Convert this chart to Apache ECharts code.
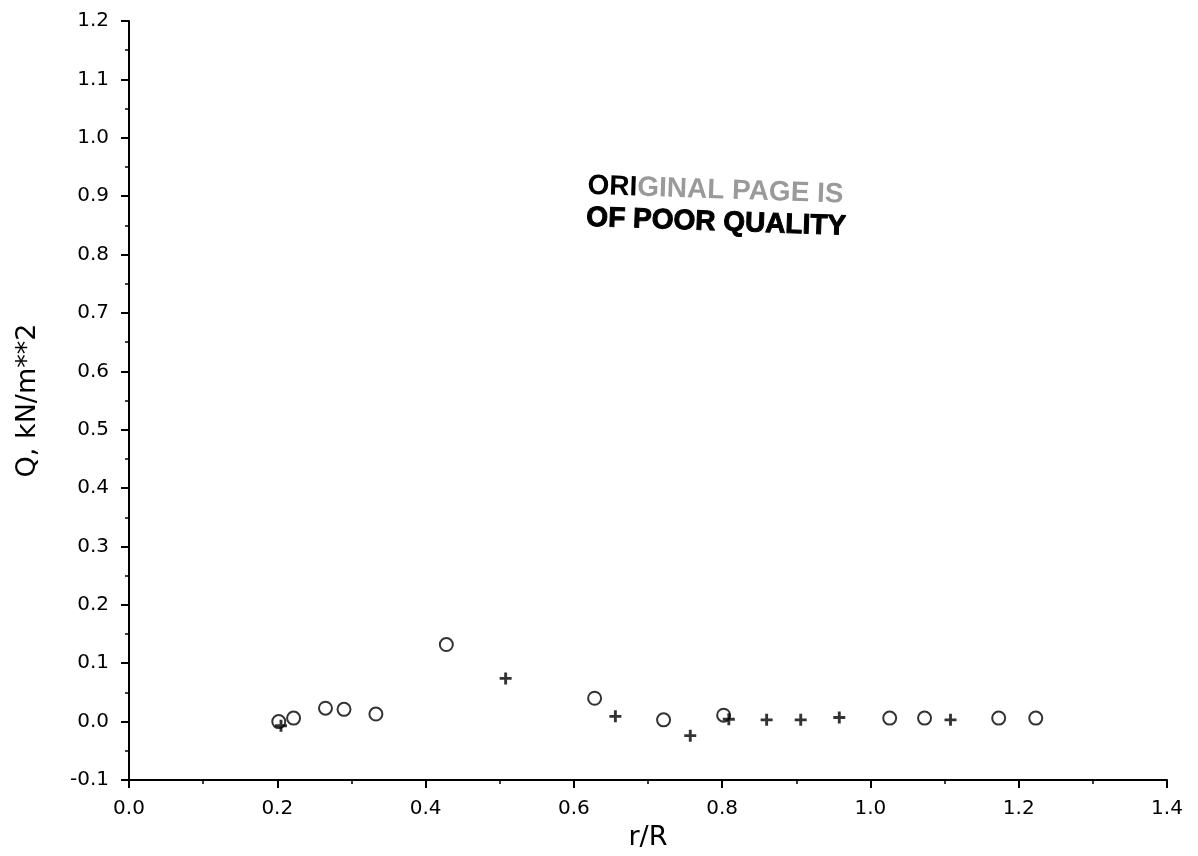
<!DOCTYPE html>
<html>
<head>
<meta charset="utf-8">
<script src="https://cdn.jsdelivr.net/npm/echarts@6/dist/echarts.min.js"></script>
<style>
    html, body { margin: 0; padding: 0; background: #fff; }
    #main { width: 1198px; height: 856px; }
</style>
</head>
<body>
<div id="main"></div>
<script>
    // circles (o)
    var circleR = [0.202, 0.222, 0.265, 0.290, 0.333, 0.428, 0.628, 0.721, 0.802, 1.026, 1.073, 1.173, 1.223];
    var circleQ = [0.000, 0.006, 0.023, 0.021, 0.013, 0.132, 0.040, 0.003, 0.011, 0.006, 0.006, 0.006, 0.006];
    // crosses (+)
    var plusR = [0.205, 0.508, 0.656, 0.757, 0.809, 0.860, 0.906, 0.958, 1.108];
    var plusQ = [-0.007, 0.074, 0.009, -0.024, 0.004, 0.003, 0.003, 0.007, 0.003];

    function pairs(xs, ys) {
        return xs.map(function (x, i) { return [x, ys[i]]; });
    }

    var myChart = echarts.init(document.getElementById('main'));
    var font = 'DejaVu Sans';

    myChart.setOption({
        animation: false,
        backgroundColor: '#fff',
        grid: {
            left: 129,
            right: 31,
            top: 21,
            bottom: 76,
            outerBoundsMode: 'none'
        },
        xAxis: {
            type: 'value',
            min: 0,
            max: 1.4,
            interval: 0.2,
            name: 'r/R',
            nameLocation: 'middle',
            nameGap: 44,
            nameTextStyle: { fontFamily: font, fontSize: 27, color: '#000' },
            axisLine: { onZero: false, lineStyle: { color: '#000', width: 2 } },
            axisTick: { length: 8, lineStyle: { color: '#000', width: 2 } },
            minorTick: { show: true, splitNumber: 2, length: 4, lineStyle: { color: '#000', width: 1.5 } },
            axisLabel: {
                margin: 19,
                fontFamily: font,
                fontSize: 20,
                color: '#000',
                formatter: function (v) { return v.toFixed(1); }
            },
            splitLine: { show: false }
        },
        yAxis: {
            type: 'value',
            min: -0.1,
            max: 1.2,
            interval: 0.1,
            name: 'Q, kN/m**2',
            nameLocation: 'middle',
            nameGap: 88,
            nameRotate: 90,
            nameTextStyle: { fontFamily: font, fontSize: 27, color: '#000' },
            axisLine: { onZero: false, lineStyle: { color: '#000', width: 2 } },
            axisTick: { length: 8, lineStyle: { color: '#000', width: 2 } },
            minorTick: { show: true, splitNumber: 2, length: 4, lineStyle: { color: '#000', width: 1.5 } },
            axisLabel: {
                margin: 20,
                fontFamily: font,
                fontSize: 20,
                color: '#000',
                formatter: function (v) { return v.toFixed(1); }
            },
            splitLine: { show: false }
        },
        series: [
            {
                name: 'o',
                type: 'scatter',
                symbol: 'circle',
                symbolSize: 13,
                itemStyle: { color: 'transparent', borderColor: '#000', borderWidth: 2 },
                data: pairs(circleR, circleQ)
            },
            {
                name: '+',
                type: 'scatter',
                symbol: 'path://M3.8,0H6.2V3.8H10V6.2H6.2V10H3.8V6.2H0V3.8H3.8Z',
                symbolKeepAspect: true,
                symbolSize: 12,
                itemStyle: { color: '#000' },
                data: pairs(plusR, plusQ)
            }
        ],
        // scanned stamp on the page
        graphic: [{
            type: 'group',
            x: 588,
            y: 172,
            rotation: -0.035,
            children: [
                {
                    type: 'text',
                    x: 0,
                    y: 0,
                    style: {
                        text: '{a|ORI}{b|GINAL PAGE IS}',
                        verticalAlign: 'top',
                        rich: {
                            a: { fontFamily: 'Liberation Sans', fontWeight: 'bold', fontSize: 28, fill: '#000' },
                            b: { fontFamily: 'Liberation Sans', fontWeight: 'bold', fontSize: 28, fill: '#9a9a9a' }
                        }
                    }
                },
                {
                    type: 'text',
                    x: 0,
                    y: 32,
                    style: {
                        text: 'OF POOR QUALITY',
                        verticalAlign: 'top',
                        fontFamily: 'Liberation Sans',
                        fontWeight: 'bold',
                        fontSize: 28,
                        fill: '#000',
                        stroke: '#000',
                        lineWidth: 1
                    }
                }
            ]
        }]
    });
</script>
</body>
</html>
